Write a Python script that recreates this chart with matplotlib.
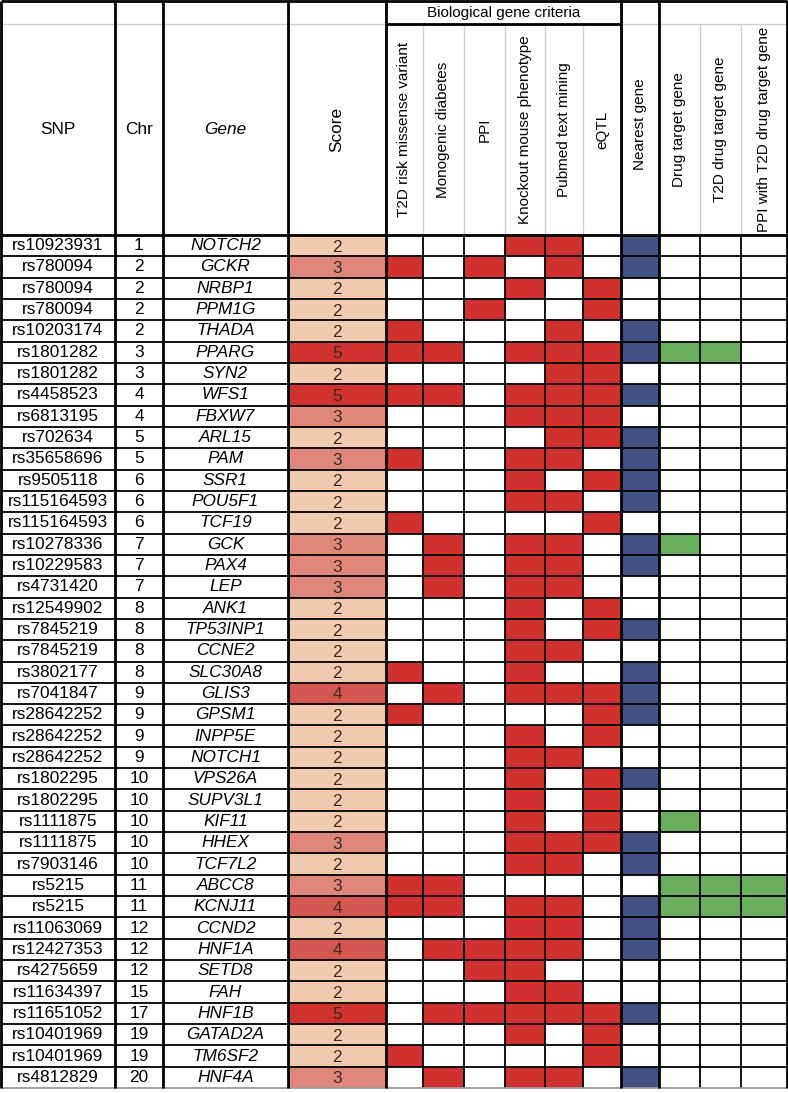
import numpy as np
import matplotlib
matplotlib.use("Agg")
import matplotlib.pyplot as plt
from matplotlib.colors import ListedColormap, BoundaryNorm

plt.rcParams['font.family'] = ['Liberation Sans', 'DejaVu Sans']

# table data
snps = ['rs10923931', 'rs780094', 'rs780094', 'rs780094', 'rs10203174', 'rs1801282',
        'rs1801282', 'rs4458523', 'rs6813195', 'rs702634', 'rs35658696', 'rs9505118',
        'rs115164593', 'rs115164593', 'rs10278336', 'rs10229583', 'rs4731420',
        'rs12549902', 'rs7845219', 'rs7845219', 'rs3802177', 'rs7041847', 'rs28642252',
        'rs28642252', 'rs28642252', 'rs1802295', 'rs1802295', 'rs1111875', 'rs1111875',
        'rs7903146', 'rs5215', 'rs5215', 'rs11063069', 'rs12427353', 'rs4275659',
        'rs11634397', 'rs11651052', 'rs10401969', 'rs10401969', 'rs4812829']
chrs = [1, 2, 2, 2, 2, 3, 3, 4, 4, 5, 5, 6, 6, 6, 7, 7, 7, 8, 8, 8, 8, 9, 9, 9, 9,
        10, 10, 10, 10, 10, 11, 11, 12, 12, 12, 15, 17, 19, 19, 20]
genes = ['NOTCH2', 'GCKR', 'NRBP1', 'PPM1G', 'THADA', 'PPARG', 'SYN2', 'WFS1', 'FBXW7',
         'ARL15', 'PAM', 'SSR1', 'POU5F1', 'TCF19', 'GCK', 'PAX4', 'LEP', 'ANK1',
         'TP53INP1', 'CCNE2', 'SLC30A8', 'GLIS3', 'GPSM1', 'INPP5E', 'NOTCH1', 'VPS26A',
         'SUPV3L1', 'KIF11', 'HHEX', 'TCF7L2', 'ABCC8', 'KCNJ11', 'CCND2', 'HNF1A',
         'SETD8', 'FAH', 'HNF1B', 'GATAD2A', 'TM6SF2', 'HNF4A']
scores = [2, 3, 2, 2, 2, 5, 2, 5, 3, 2, 3, 2, 2, 2, 3, 3, 3, 2, 2, 2, 2, 4, 2, 2, 2,
          2, 2, 2, 3, 2, 3, 4, 2, 4, 2, 2, 5, 2, 2, 3]

# genes flagged by each criterion
missense = ['GCKR', 'THADA', 'PPARG', 'WFS1', 'PAM', 'TCF19', 'SLC30A8', 'GPSM1',
            'ABCC8', 'KCNJ11', 'TM6SF2']
monogenic = ['PPARG', 'WFS1', 'GCK', 'PAX4', 'LEP', 'GLIS3', 'ABCC8', 'KCNJ11',
             'HNF1A', 'HNF1B', 'HNF4A']
ppi = ['GCKR', 'PPM1G', 'HNF1A', 'SETD8', 'HNF1B']
knockout = ['NOTCH2', 'NRBP1', 'PPARG', 'WFS1', 'FBXW7', 'PAM', 'SSR1', 'POU5F1', 'GCK',
            'PAX4', 'LEP', 'ANK1', 'TP53INP1', 'CCNE2', 'SLC30A8', 'GLIS3', 'INPP5E',
            'NOTCH1', 'VPS26A', 'SUPV3L1', 'KIF11', 'HHEX', 'TCF7L2', 'KCNJ11', 'CCND2',
            'HNF1A', 'SETD8', 'FAH', 'HNF1B', 'GATAD2A', 'HNF4A']
pubmed = ['NOTCH2', 'GCKR', 'THADA', 'PPARG', 'SYN2', 'WFS1', 'FBXW7', 'ARL15', 'PAM',
          'POU5F1', 'GCK', 'PAX4', 'LEP', 'CCNE2', 'GLIS3', 'NOTCH1', 'HHEX', 'TCF7L2',
          'KCNJ11', 'CCND2', 'HNF1A', 'FAH', 'HNF1B', 'HNF4A']
eqtl = ['NRBP1', 'PPM1G', 'PPARG', 'SYN2', 'WFS1', 'FBXW7', 'ARL15', 'SSR1', 'TCF19',
        'ANK1', 'TP53INP1', 'GLIS3', 'GPSM1', 'INPP5E', 'VPS26A', 'SUPV3L1', 'KIF11',
        'HHEX', 'HNF1B', 'GATAD2A', 'TM6SF2']
nearest = ['NOTCH2', 'GCKR', 'THADA', 'PPARG', 'WFS1', 'ARL15', 'PAM', 'SSR1', 'POU5F1',
           'GCK', 'PAX4', 'TP53INP1', 'SLC30A8', 'GLIS3', 'GPSM1', 'VPS26A', 'HHEX',
           'TCF7L2', 'KCNJ11', 'CCND2', 'HNF1A', 'HNF1B', 'HNF4A']
drug_target = ['PPARG', 'GCK', 'KIF11', 'ABCC8', 'KCNJ11']
t2d_drug_target = ['PPARG', 'ABCC8', 'KCNJ11']
ppi_t2d_drug = ['ABCC8', 'KCNJ11']

bio_labels = ['T2D risk missense variant', 'Monogenic diabetes', 'PPI',
              'Knockout mouse phenotype', 'Pubmed text mining', 'eQTL']
drug_labels = ['Drug target gene', 'T2D drug target gene', 'PPI with T2D drug target gene']

# layout (pixels)
W, H = 788, 1093
col_edges = [1, 115, 163, 288, 386, 423, 464, 505, 545, 583, 621, 659, 700, 741, 787]
head_top, head_mid, head_bot, tab_bot = 1, 24, 235, 1088
row_edges = np.linspace(head_bot, tab_bot, len(genes) + 1)
row_mid = (row_edges[:-1] + row_edges[1:]) / 2
col_mid = [(a + b) / 2 for a, b in zip(col_edges[:-1], col_edges[1:])]

red, blue, green = '#D0312D', '#3F5283', '#69AF5D'
score_colors = ['#F0CBAF', '#E0877B', '#D55751', '#D1322E']

fig = plt.figure(figsize=(W / 100, H / 100), dpi=100)
ax = fig.add_axes([0, 0, 1, 1])
ax.set_xlim(0, W)
ax.set_ylim(H, 0)
ax.axis('off')

# flag cells: 0 white, 1 red, 2 blue, 3 green
groups = [(missense, 1), (monogenic, 1), (ppi, 1), (knockout, 1), (pubmed, 1), (eqtl, 1),
          (nearest, 2), (drug_target, 3), (t2d_drug_target, 3), (ppi_t2d_drug, 3)]
codes = np.array([[code if g in members else 0 for members, code in groups] for g in genes])
ax.pcolormesh(col_edges[4:], row_edges, codes,
              cmap=ListedColormap(['white', red, blue, green]),
              norm=BoundaryNorm([-0.5, 0.5, 1.5, 2.5, 3.5], 4))

# score column
ax.pcolormesh(col_edges[3:5], row_edges, np.array(scores)[:, None],
              cmap=ListedColormap(score_colors),
              norm=BoundaryNorm([1.5, 2.5, 3.5, 4.5, 5.5], 4))

fs = 12.4
hfs = 11
for i in range(len(genes)):
    y = row_mid[i]
    ax.text(col_mid[0], y, snps[i], ha='center', va='center', fontsize=fs)
    ax.text(col_mid[1], y, str(chrs[i]), ha='center', va='center', fontsize=fs)
    ax.text(col_mid[2], y, genes[i], ha='center', va='center', fontsize=fs, style='italic')
    ax.text(col_mid[3], y + 1.5, str(scores[i]), ha='center', va='center', fontsize=fs,
            color='#3a2a22')

# header text
hy = (head_mid + head_bot) / 2
ax.text(col_mid[0], hy, 'SNP', ha='center', va='center', fontsize=fs)
ax.text(col_mid[1], hy, 'Chr', ha='center', va='center', fontsize=fs)
ax.text(col_mid[2], hy, 'Gene', ha='center', va='center', fontsize=fs, style='italic')
ax.text(col_mid[3], hy, 'Score', ha='center', va='center', fontsize=fs, rotation=90)
ax.text((col_edges[4] + col_edges[10]) / 2, (head_top + head_mid) / 2 + 1,
        'Biological gene criteria', ha='center', va='center', fontsize=hfs)
for k, lab in enumerate(bio_labels):
    ax.text(col_mid[4 + k], hy, lab, ha='center', va='center', fontsize=hfs, rotation=90)
ax.text(col_mid[10], hy - 5, 'Nearest gene', ha='center', va='center', fontsize=hfs,
        rotation=90)
for k, lab in enumerate(drug_labels):
    ax.text(col_mid[11 + k], hy, lab, ha='center', va='center', fontsize=hfs, rotation=90)

# grid lines
grey = '#CFCFCF'
thick, thin = 2.0, 1.3
main_cols = [col_edges[i] for i in (0, 1, 2, 3, 4, 10, 11, 14)]
sub_cols = [col_edges[i] for i in (5, 6, 7, 8, 9, 12, 13)]
ax.vlines(sub_cols, head_mid, head_bot, color=grey, lw=1.0)
ax.vlines(sub_cols, head_bot, tab_bot, color='black', lw=thin)
ax.hlines(head_mid, col_edges[0], col_edges[4], color=grey, lw=1.0)
ax.hlines(head_mid, col_edges[10], col_edges[14], color=grey, lw=1.0)
ax.hlines(head_mid, col_edges[4], col_edges[10], color='black', lw=thick)
ax.hlines(row_edges[1:-1], col_edges[0], col_edges[-1], color='black', lw=thin)
ax.hlines(tab_bot, col_edges[0], col_edges[-1], color='#9A9A9A', lw=thin)
ax.vlines(main_cols, head_top, tab_bot, color='black', lw=thick)
ax.hlines([head_top, head_bot], col_edges[0], col_edges[-1], color='black', lw=thick)

fig.savefig('out.png', dpi=100)
